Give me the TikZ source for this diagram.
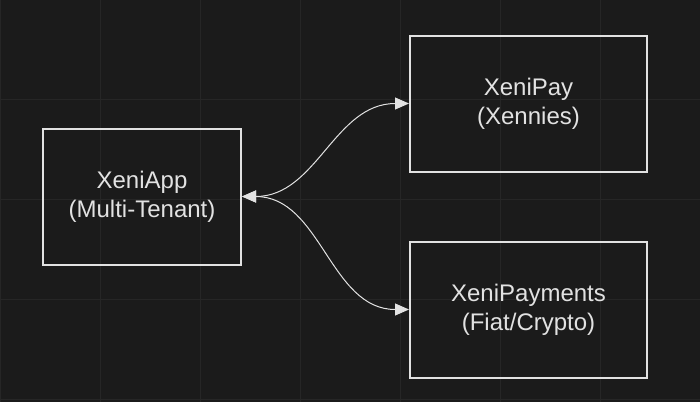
\documentclass[tikz,border=0pt]{standalone}
\usepackage{fontspec}
\setmainfont{Liberation Sans}
\usetikzlibrary{positioning,arrows.meta}
\definecolor{canvas}{HTML}{1B1B1B}
\definecolor{gridline}{HTML}{262626}
\definecolor{ink}{HTML}{E2E2E2}
\tikzset{box/.style={draw=ink,line width=2pt,text=ink,font=\fontsize{24}{29}\selectfont,align=center,minimum width=#1,minimum height=136pt,inner sep=0pt},
link/.style={draw=ink,line width=1pt,{Triangle[length=14pt,width=12pt]}-{Triangle[length=14pt,width=12pt]}}}

\begin{document}
\begin{tikzpicture}[x=1pt,y=-1pt]
\fill[canvas] (0,0) rectangle (700,402);
\useasboundingbox (0,0) rectangle (700,402);
\foreach \x in {0,100,...,700} \draw[gridline] (\x,0) -- (\x,402);
\foreach \y in {-1,99,...,399} \draw[gridline] (0,\y) -- (700,\y);
\node[box=198pt] (app) at (142,196.5) {XeniApp\\(Multi-Tenant)};
\node[box=237pt] (pay) [above right=-45pt and 167pt of app] {XeniPay\\(Xennies)};
\node[box=237pt] (payments) [below=68pt of pay] {XeniPayments\\(Fiat/Crypto)};
\draw[link] (app.east) to[out=0,in=180] (pay.west);
\draw[link] (app.east) to[out=0,in=180] (payments.west);
\end{tikzpicture}
\end{document}
